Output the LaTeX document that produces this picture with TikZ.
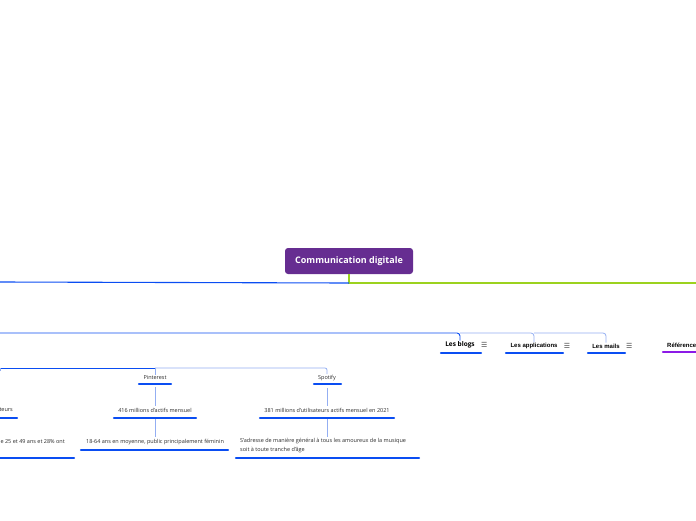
\documentclass[tikz,border=0pt]{standalone}
\usepackage{fontspec}
\setmainfont{Open Sans}
\newfontfamily\headfont{Liberation Sans}
\newfontfamily\symfont{DejaVu Sans}
\usetikzlibrary{positioning}

\definecolor{mmpurple}{HTML}{662D91}
\definecolor{mmblue}{HTML}{0A4DF2}
\definecolor{mmlight}{HTML}{93AEF2}
\definecolor{mmgreen}{HTML}{9CD21E}
\definecolor{mmviolet}{HTML}{8C1AE6}
\definecolor{mmtext}{HTML}{2B2B2B}

\tikzset{
  topic/.style={font=\fontsize{5.5}{9}\selectfont, text=mmtext, inner sep=1pt},
  branch/.style={font=\headfont\bfseries\fontsize{6}{6}\selectfont, inner sep=1pt},
  menu/.style={font=\symfont\fontsize{7}{7}\selectfont, text=black!70, inner sep=0pt},
  uline/.style={mmblue, line width=2.4pt, line cap=round},
  link/.style={mmlight, line width=0.8pt},
}

\begin{document}
\begin{tikzpicture}[x=1pt,y=-1pt]
\useasboundingbox (0,0) rectangle (696,520);
\clip (0,0) rectangle (696,520);

% central topic
\node[fill=mmpurple, rounded corners=3pt, text=white, font=\bfseries\fontsize{9}{10}\selectfont,
      minimum width=128pt, minimum height=26pt] (root) at (349,261) {Communication digitale};
\coordinate (rootj) at (349,283);
\draw[mmgreen, line width=1.2pt] (root.south) -- (rootj) -- (696,283);
\draw[mmblue, line width=1.1pt] (rootj) -- (0,282);

% second row: blogs, applications, mails
\node[font=\bfseries\fontsize{6.5}{7}\selectfont, inner sep=1pt] (blogs) at (460,345) {Les blogs};
\node[branch] (apps) at (534,346) {Les applications};
\node[branch] (mails) at (606,346) {Les mails};
\node[branch, anchor=west] (refs) at (666,345) {Référence};
\node[menu, right=5pt of blogs] (blogsm) {☰};
\node[menu, right=5pt of apps] (appsm) {☰};
\node[menu, right=5pt of mails] (mailsm) {☰};

\draw[mmblue, line width=0.9pt, rounded corners=3pt] (0,333) -- (460,333) -- (blogs.north);
\draw[link, rounded corners=3pt] (460,333) -- (534,333) -- (apps.north);
\draw[link, rounded corners=3pt] (534,333) -- (606,333) -- (mails.north);

\draw[uline] (441,353) -- (481,353);
\draw[uline] (506,353) -- (563,353);
\draw[uline] (588,353) -- (625,353);
\draw[uline, mmviolet] (663,352) -- (700,352);

% third row: Pinterest and Spotify
\node[topic] (pin) at (155,378) {Pinterest};
\node[topic] (pin1) at (155,410) {416 millions d'actifs mensuel};
\node[topic] (pin2) at (155,442) {18-64 ans en moyenne, public principalement féminin};
\node[topic] (spo) at (327,378) {Spotify};
\node[topic] (spo1) at (327,410) {381 millions d'utilisateurs actifs mensuel en 2021};
\node[topic, align=left, anchor=north west] (spo2) at (239,437.5)
  {S'adresse de manière général à tous les amoureux de la musique\\soit à toute tranche d'âge};
\node[topic, anchor=east] (left1) at (14,410) {teurs};
\node[topic, anchor=east] (left2) at (66,442) {e 25 et 49 ans et 28\% ont};

\draw[mmblue, line width=0.9pt] (0,368) -- (155,368);
\draw[link, rounded corners=2pt] (155,368) -- (327,368) -- (spo.north);
\draw[link] (155,368) -- (pin.north);
\draw[link] (0.5,368) -- (0.5,371);
\draw[link, shorten <=6pt, shorten >=1pt] (pin.south) -- (pin1.north);
\draw[link, shorten <=6pt, shorten >=1pt] (pin1.south) -- (pin2.north);
\draw[link, shorten <=6pt, shorten >=1pt] (spo.south) -- (spo1.north);
\draw[link, shorten <=6pt, shorten >=1pt] (spo1.south) -- (spo1.south |- spo2.north);

\draw[uline] (139,384) -- (171,384);
\draw[uline] (114,418) -- (196,418);
\draw[uline] (81,450) -- (228,450);
\draw[uline] (314,384) -- (341,384);
\draw[uline] (260,418) -- (394,418);
\draw[uline] (236,458) -- (419,458);
\draw[uline] (-5,418) -- (17,418);
\draw[uline] (-5,458) -- (74,458);
\end{tikzpicture}
\end{document}
